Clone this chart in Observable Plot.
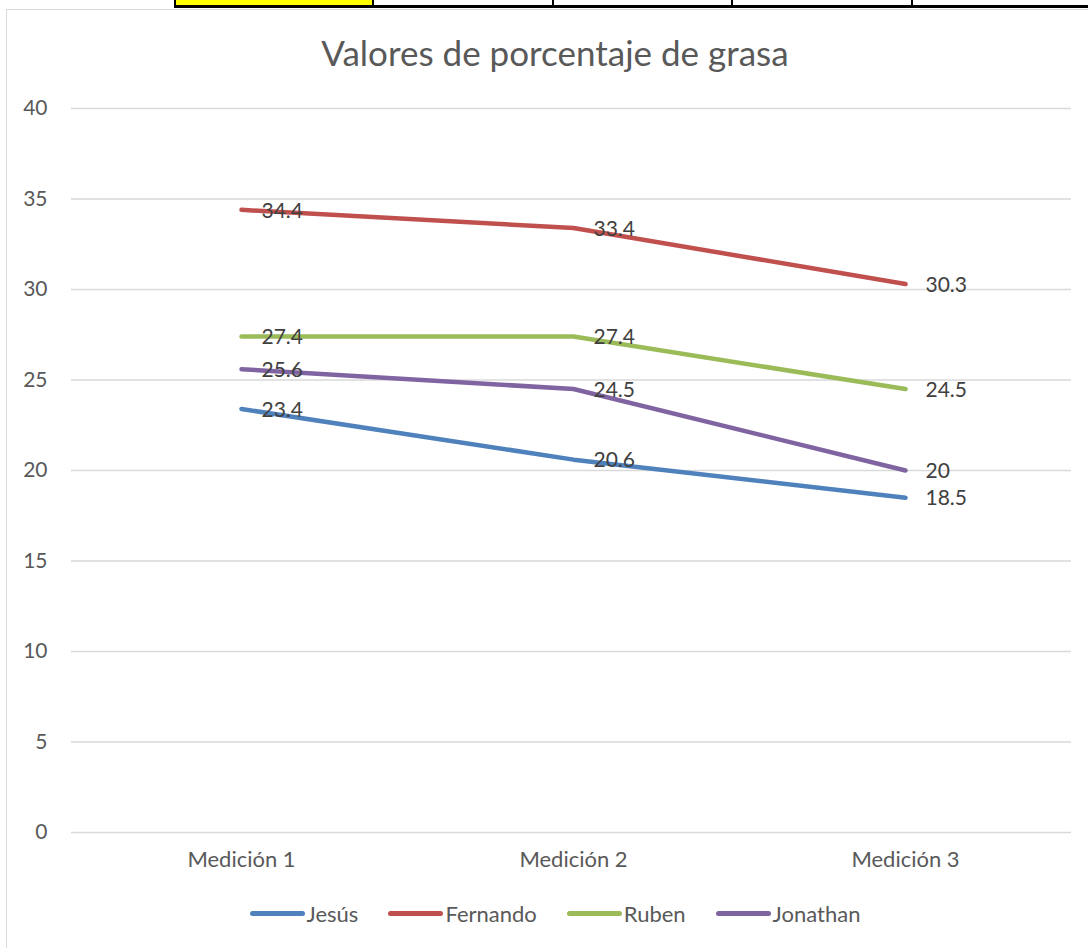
<!DOCTYPE html>
<html>
<head>
<meta charset="utf-8">
<script src="https://cdn.jsdelivr.net/npm/d3@7"></script>
<script src="https://cdn.jsdelivr.net/npm/@observablehq/plot@0.6"></script>
<style>
  html, body { margin: 0; padding: 0; background: #fff; }
  body { width: 1088px; height: 948px; position: relative; overflow: hidden; font-family: Lato, "Open Sans", sans-serif; }
  #cells { position: absolute; left: 174px; top: 0; height: 5px; width: 1000px; border-bottom: 3px solid #000; display: flex; }
  #cells div { height: 5px; border-left: 2px solid #000; }
  #frame { position: absolute; left: 6px; top: 9px; width: 1100px; height: 960px; border: 1px solid #d9d9d9; box-sizing: border-box; }
  #title { position: absolute; left: 0; width: 1110px; top: 31px; text-align: center; font-size: 35px; color: #595959; }
  #chart { position: absolute; left: 0; top: 80px; }
  #legend { position: absolute; left: 0; width: 1110px; top: 900px; display: flex; justify-content: center; gap: 30px; font-size: 22px; color: #595959; }
  .item { display: flex; align-items: center; }
  .sw { width: 55px; height: 5px; border-radius: 3px; margin-right: 2px; }
</style>
</head>
<body>
<div id="cells"></div>
<div id="frame"></div>
<div id="title">Valores de porcentaje de grasa</div>
<div id="chart"></div>
<div id="legend"></div>
<script>
const categories = ["Medición 1", "Medición 2", "Medición 3"];
const seriesNames = ["Jesús", "Fernando", "Ruben", "Jonathan"];
const jesus = [23.4, 20.6, 18.5];
const fernando = [34.4, 33.4, 30.3];
const ruben = [27.4, 27.4, 24.5];
const jonathan = [25.6, 24.5, 20];
const yTicks = [0, 5, 10, 15, 20, 25, 30, 35, 40];
const colors = ["#4F81BD", "#C0504D", "#9BBB59", "#8064A2"];
const cellWidths = [196, 178, 177, 178, 200];

const cells = document.getElementById("cells");
cellWidths.forEach((w, i) => {
  const d = document.createElement("div");
  d.style.width = w + "px";
  if (i === 0) d.style.background = "#FFFF00";
  cells.appendChild(d);
});

const values = [jesus, fernando, ruben, jonathan];
const data = [];
seriesNames.forEach((s, i) => values[i].forEach((v, j) => data.push({serie: s, cat: categories[j], value: v})));

const chart = Plot.plot({
  width: 1088,
  height: 800,
  marginTop: 28,
  marginBottom: 48,
  marginLeft: 74,
  marginRight: 17,
  style: {fontFamily: "Lato, 'Open Sans', sans-serif", background: "transparent"},
  x: {type: "point", domain: categories, padding: 0.5, label: null},
  y: {domain: [0, 40], ticks: yTicks, label: null},
  color: {domain: seriesNames, range: colors},
  marks: [
    Plot.gridY(yTicks, {stroke: "#d9d9d9", strokeOpacity: 1, strokeWidth: 1.5, insetLeft: -3}),
    Plot.axisY(yTicks, {tickSize: 0, tickPadding: 27, fontSize: 21, fill: "#595959", label: null}),
    Plot.axisX({tickSize: 0, tickPadding: 19, fontSize: 22, fill: "#595959", label: null}),
    Plot.line(data, {x: "cat", y: "value", z: "serie", stroke: "serie", strokeWidth: 4.5, strokeLinecap: "round", strokeLinejoin: "round"}),
    Plot.text(data, {x: "cat", y: "value", text: d => String(d.value), dx: 20, dy: 1, textAnchor: "start", fontSize: 21, fill: "#404040"})
  ]
});
document.getElementById("chart").appendChild(chart);

const legend = document.getElementById("legend");
seriesNames.forEach((s, i) => {
  const it = document.createElement("div");
  it.className = "item";
  const sw = document.createElement("div");
  sw.className = "sw";
  sw.style.background = colors[i];
  const t = document.createElement("span");
  t.textContent = s;
  it.appendChild(sw);
  it.appendChild(t);
  legend.appendChild(it);
});
</script>
</body>
</html>
